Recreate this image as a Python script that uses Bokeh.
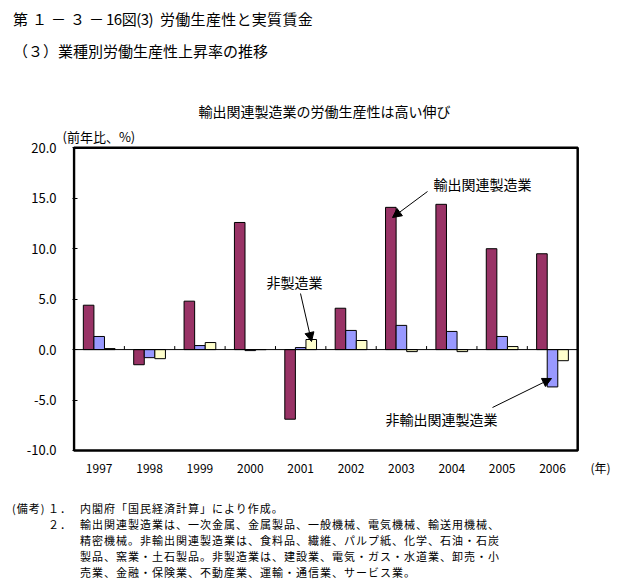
from bokeh.plotting import figure
from bokeh.models import (ColumnDataSource, Label, Arrow, NormalHead, Title, Div,
                          FixedTicker, PrintfTickFormatter, Range1d)
from bokeh.layouts import column
from bokeh.transform import dodge
from bokeh.embed import file_html
from bokeh.resources import INLINE

# ---- data ----
years = ["1997", "1998", "1999", "2000", "2001", "2002", "2003", "2004", "2005", "2006"]
export_mfg = [4.4, -1.5, 4.8, 12.6, -6.9, 4.1, 14.1, 14.4, 10.0, 9.5]      # 輸出関連製造業
nonexport_mfg = [1.3, -0.8, 0.4, -0.1, 0.2, 1.9, 2.4, 1.8, 1.3, -3.7]      # 非輸出関連製造業
non_mfg = [0.1, -0.9, 0.7, 0.0, 1.0, 0.9, -0.2, -0.2, 0.3, -1.1]          # 非製造業
y_ticks = [-10, -5, 0, 5, 10, 15, 20]
year_unit = "(年)"

FONT = "Noto Sans CJK JP"

# ---------------- header (HTML) ----------------
HEAD_H = 70
def span(s, left, top, size, extra=""):
    return (f'<span style="position:absolute;left:{left}px;top:{top}px;font-size:{size}px;'
            f'line-height:{size + 3}px;{extra}">{s}</span>')

header_html = (
    f'<div style="position:relative;width:620px;height:{HEAD_H}px;font-family:\'{FONT}\';'
    'color:#000;white-space:nowrap;">'
    + span("第１－３－", 13, 10, 15, "letter-spacing:4px;")
    + span("16図(3)", 106, 10, 15, "letter-spacing:-0.5px;")
    + span("労働生産性と実質賃金", 160, 10, 15, "letter-spacing:0.3px;")
    + span("（３）", 13, 42, 15)
    + span("業種別労働生産性上昇率の推移", 58, 42, 15)
    + '</div>')
header = Div(text=header_html, width=620, height=HEAD_H, margin=(0, 0, 0, 0))

# ---------------- chart ----------------
W, H = 620, 410
ML, MR, MT, MB = 72, 0, 75, 28
x0, x1 = -0.03, 10.85
y0, y1 = -10.2, 20.23

p = figure(width=W, height=H, output_backend="svg", toolbar_location=None,
           title_location=None,
           x_range=Range1d(x0, x1), y_range=Range1d(y0, y1),
           min_border_left=ML, min_border_right=MR, min_border_top=MT, min_border_bottom=MB,
           margin=(0, 0, 0, 0))
p.background_fill_color = "white"
p.border_fill_color = "white"
p.outline_line_color = None
p.xgrid.visible = False
p.ygrid.visible = False

# page-pixel -> data helpers (figure top sits at page y = HEAD_H)
def dx(px):
    return x0 + (px - ML) / (W - ML - MR) * (x1 - x0)
def dy(py):
    return y1 - (py - HEAD_H - MT) / (H - MT - MB) * (y1 - y0)

n = len(years)
centers = [i + 0.5 for i in range(n)]
bw = 0.21
src = ColumnDataSource(dict(c=centers, a=export_mfg, b=nonexport_mfg, n=non_mfg))
p.vbar(x=dodge("c", -bw, range=p.x_range), top="a", width=bw, source=src,
       fill_color="#993366", line_color="black", line_width=1)
p.vbar(x=dodge("c", 0, range=p.x_range), top="b", width=bw, source=src,
       fill_color="#9999FF", line_color="black", line_width=1)
p.vbar(x=dodge("c", bw, range=p.x_range), top="n", width=bw, source=src,
       fill_color="#FFFFCC", line_color="black", line_width=1)

# plot box, zero line and category separators
p.quad(left=[0], right=[n], bottom=[min(y_ticks)], top=[max(y_ticks)],
       fill_color=None, line_color="black", line_width=2.5)
p.segment(x0=[0], x1=[n], y0=[0], y1=[0], line_color="black", line_width=1)
seps = list(range(1, n))
p.segment(x0=seps, x1=seps, y0=[0] * len(seps), y1=[0.35] * len(seps),
          line_color="black", line_width=1)

# axes
p.yaxis.ticker = FixedTicker(ticks=y_ticks)
p.yaxis.formatter = PrintfTickFormatter(format="%.1f")
p.yaxis.axis_line_color = None
p.yaxis.major_tick_in = 5
p.yaxis.major_tick_out = 0
p.yaxis.major_tick_line_width = 1
p.yaxis.minor_tick_line_color = None
p.yaxis.major_label_standoff = 16
p.yaxis.major_label_text_font = FONT
p.yaxis.major_label_text_font_size = "13px"
p.yaxis.major_label_text_color = "black"

unit_pos = dx(600)
p.xaxis.ticker = FixedTicker(ticks=centers + [unit_pos])
overrides = {c: y for c, y in zip(centers, years)}
overrides[unit_pos] = year_unit
p.xaxis.major_label_overrides = overrides
p.xaxis.axis_line_color = None
p.xaxis.major_tick_in = 0
p.xaxis.major_tick_out = 0
p.xaxis.minor_tick_line_color = None
p.xaxis.major_label_standoff = 6
p.xaxis.major_label_text_font = FONT
p.xaxis.major_label_text_font_size = "12px"
p.xaxis.major_label_text_color = "black"

# titles above the plot box (first added = nearest to the box)
p.add_layout(Title(text="(前年比、%)", align="left", offset=62 - ML, standoff=0,
                   text_font=FONT, text_font_size="13px", text_font_style="normal",
                   text_color="black", vertical_align="bottom"), "above")
p.add_layout(Title(text="輸出関連製造業の労働生産性は高い伸び", align="left", offset=198 - ML,
                   standoff=7, text_font=FONT, text_font_size="14px",
                   text_font_style="normal", text_color="black", vertical_align="bottom"),
             "above")

def txt(s, px, py, size="14px"):
    p.add_layout(Label(x=dx(px), y=dy(py), text=s, text_font=FONT, text_font_size=size,
                       text_color="black", text_baseline="middle", text_align="left"))

# annotations
txt("輸出関連製造業", 433, 183)
txt("非製造業", 266, 281)
txt("非輸出関連製造業", 385, 418)
for (ax0, ay0, ax1, ay1) in [(427, 191, 392, 217), (300, 293, 311, 341), (492, 407, 551, 378)]:
    p.add_layout(Arrow(end=NormalHead(size=9, fill_color="black", line_color="black"),
                       x_start=dx(ax0), y_start=dy(ay0), x_end=dx(ax1), y_end=dy(ay1),
                       line_color="black", line_width=1))

# ---------------- notes (HTML) ----------------
NOTE_TOP = HEAD_H + H
NOTE_H = 586 - NOTE_TOP - 2
notes = [
    [("(備考)", 12), ("１．", 48), ("内閣府「国民経済計算」により作成。", 80)],
    [("２．", 48), ("輸出関連製造業は、一次金属、金属製品、一般機械、電気機械、輸送用機械、", 80)],
    [("精密機械。非輸出関連製造業は、食料品、繊維、パルプ紙、化学、石油・石炭", 80)],
    [("製品、窯業・土石製品。非製造業は、建設業、電気・ガス・水道業、卸売・小", 80)],
    [("売業、金融・保険業、不動産業、運輸・通信業、サービス業。", 80)],
]
note_html = (f'<div style="position:relative;width:620px;height:{NOTE_H}px;'
             f'font-family:\'{FONT}\';color:#000;white-space:nowrap;">')
for i, parts in enumerate(notes):
    top = 20 + 16 * i
    for s, left in parts:
        note_html += (f'<span style="position:absolute;left:{left}px;top:{top}px;'
                      f'font-size:11px;letter-spacing:1px;line-height:16px;">{s}</span>')
note_html += '</div>'
notes_div = Div(text=note_html, width=620, height=NOTE_H, margin=(0, 0, 0, 0))

layout = column(header, p, notes_div, spacing=0)
open("out.html", "w").write(file_html(layout, INLINE))
